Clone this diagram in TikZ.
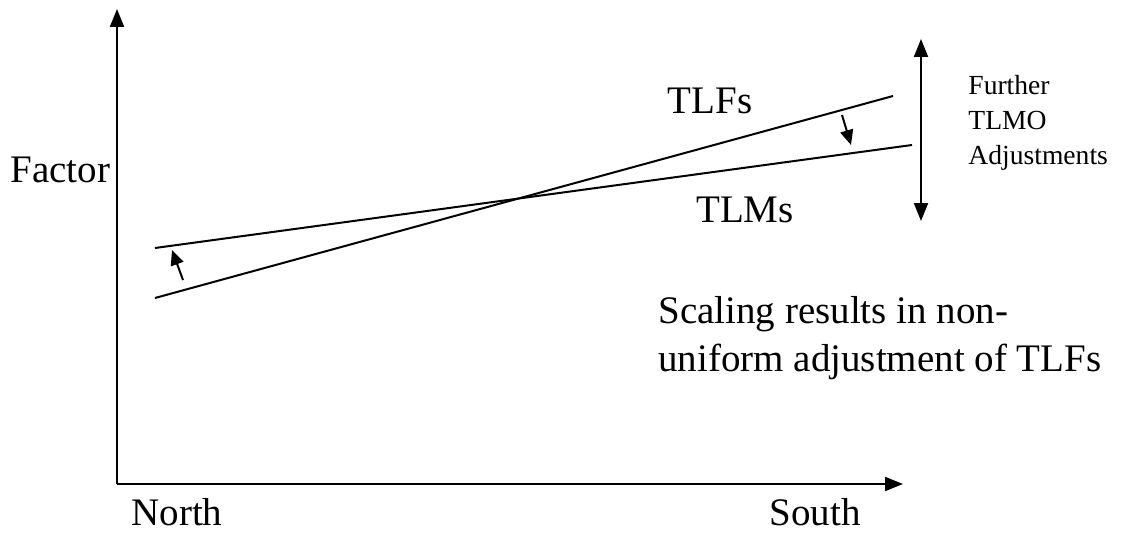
\documentclass[tikz,border=0pt]{standalone}
\usepackage{fontspec}
\setmainfont{Liberation Serif}
\usetikzlibrary{arrows.meta}
\begin{document}
\begin{tikzpicture}[x=0.5pt,y=-0.5pt,
  ln/.style={line width=1pt},
  ar/.style={line width=1pt,-{Triangle[length=9pt,width=7pt]}},
  sar/.style={line width=1pt,-{Triangle[length=7.5pt,width=6.5pt]}},
  big/.style={font=\fontsize{19.5}{24}\selectfont, inner sep=0pt},
  small/.style={font=\fontsize{13.8}{17.5}\selectfont, inner sep=0pt, align=left}]
\useasboundingbox (0,0) rectangle (1124,540);
\coordinate (O) at (117,484);
\coordinate (ytop) at (117,9);
\coordinate (xend) at (903,484);
\draw[ar] (O) -- (ytop);
\draw[ar] (O) -- (xend);
% lines
\coordinate (f1) at (155,298);
\coordinate (f2) at (893,96);
\coordinate (m1) at (155,248);
\coordinate (m2) at (912,145);
\draw[ln] (f1) -- (f2);
\draw[ln] (m1) -- (m2);
% small arrows
\coordinate (a1s) at (183,280);
\coordinate (a1e) at (172,250);
\draw[sar] (a1s) -- (a1e);
\coordinate (a2s) at (842,115);
\coordinate (a2e) at (851,145);
\draw[sar] (a2s) -- (a2e);
% vertical double arrow
\coordinate (vm) at (921,130);
\coordinate (vt) at (921,39);
\coordinate (vb) at (921,221);
\draw[ar] (vm) -- (vt);
\draw[ar] (vm) -- (vb);
% texts
\node[big, anchor=base] (tlf) at (710,113) {TLFs};
\node[big, anchor=base] (tlm) at (745,222) {TLMs};
\node[big, anchor=base west] (fac) at (10,182) {Factor};
\node[big, anchor=base] (north) at (177,525) {North};
\node[big, anchor=base] (south) at (815,525) {South};
\node[small, anchor=north west] (adj) at (968,75) {Further\\TLMO\\Adjustments};
\node[big, anchor=north west, align=left] (sc) at (658,296) {Scaling results in non-\\uniform adjustment of TLFs};
\end{tikzpicture}
\end{document}
